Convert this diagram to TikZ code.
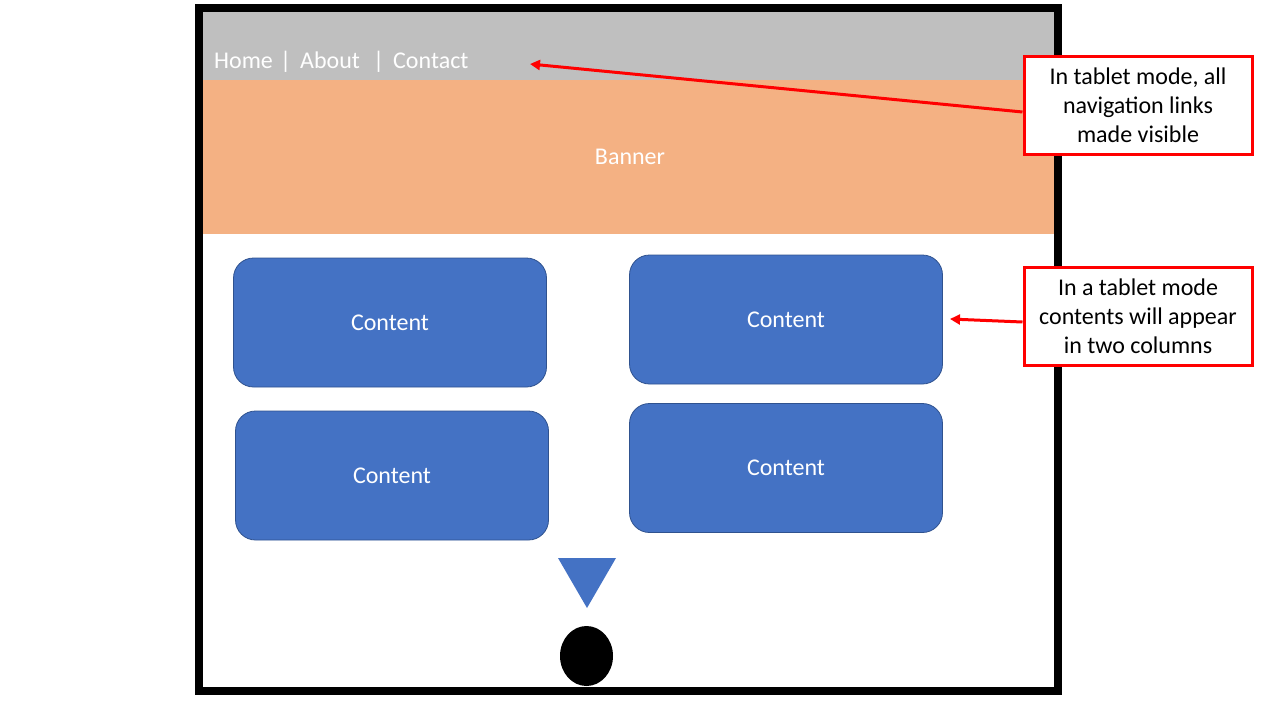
\documentclass[tikz,border=0pt]{standalone}
\usepackage{fontspec}
\setmainfont{Carlito}
\usetikzlibrary{arrows.meta,shapes.geometric}
\definecolor{navgray}{HTML}{BFBFBF}
\definecolor{banorange}{HTML}{F4B183}
\definecolor{boxblue}{HTML}{4472C4}
\definecolor{boxedge}{HTML}{2F528F}
\tikzset{
	bigtext/.style={font=\fontsize{24}{29}\selectfont},
	contentbox/.style={bigtext, rounded corners=20, fill=boxblue, draw=boxedge, line width=0.8, text=white, minimum width=313, minimum height=129, inner sep=0},
	navlink/.style={bigtext, text=white, anchor=base west, inner sep=0},
	callout/.style={bigtext, draw=red, line width=3, fill=white, align=center, minimum width=228, minimum height=98, inner sep=0},
	redarrow/.style={red, line width=3, -{Triangle[width=10,length=10]}}
}

\begin{document}
\begin{tikzpicture}[x=1pt, y=-1pt]
			%%%%% START %%%%%
			\useasboundingbox (0, 0) rectangle (1280, 720);
			
			\fill[navgray] (203, 12) rectangle (1055, 80);
			\fill[banorange] (203, 80) rectangle (1055, 234);
			\draw[line width=8] (199, 8) rectangle (1058, 691);
			
			\node[navlink] (home) at (214, 68) {Home};
			\node[navlink] (bar1) at (280, 68) {|};
			\node[navlink] (about) at (300, 68) {About};
			\node[navlink] (bar2) at (373, 68) {|};
			\node[navlink] (contact) at (393, 68) {Contact};
			\coordinate (navtip) at (530, 64);
			
			\node[bigtext, text=white] (banner) at (630, 157) {Banner};
			
			\node[contentbox] (cont1) at (390, 322.5) {Content};
			\node[contentbox] (cont2) at (786, 319.5) {Content};
			\node[contentbox] (cont3) at (392, 475.5) {Content};
			\node[contentbox] (cont4) at (786, 468) {Content};
			
			\fill[boxblue] (558, 558) -- (616, 558) -- (587, 608) -- cycle;
			\fill[black] (586.5, 656) ellipse (26.5 and 30);
			
			\node[callout] (note1) at (1138, 105) {In tablet mode, all\\navigation links\\made visible};
			\node[callout] (note2) at (1138, 316) {In a tablet mode\\contents will appear\\in two columns};
			\coordinate (coltip) at (950, 319);
			
			\draw[redarrow] (note1.west |- 0, 112) -- (navtip);
			\draw[redarrow] (note2.west |- 0, 322) -- (coltip);
			%%%%% END %%%%%
\end{tikzpicture}
\end{document}
